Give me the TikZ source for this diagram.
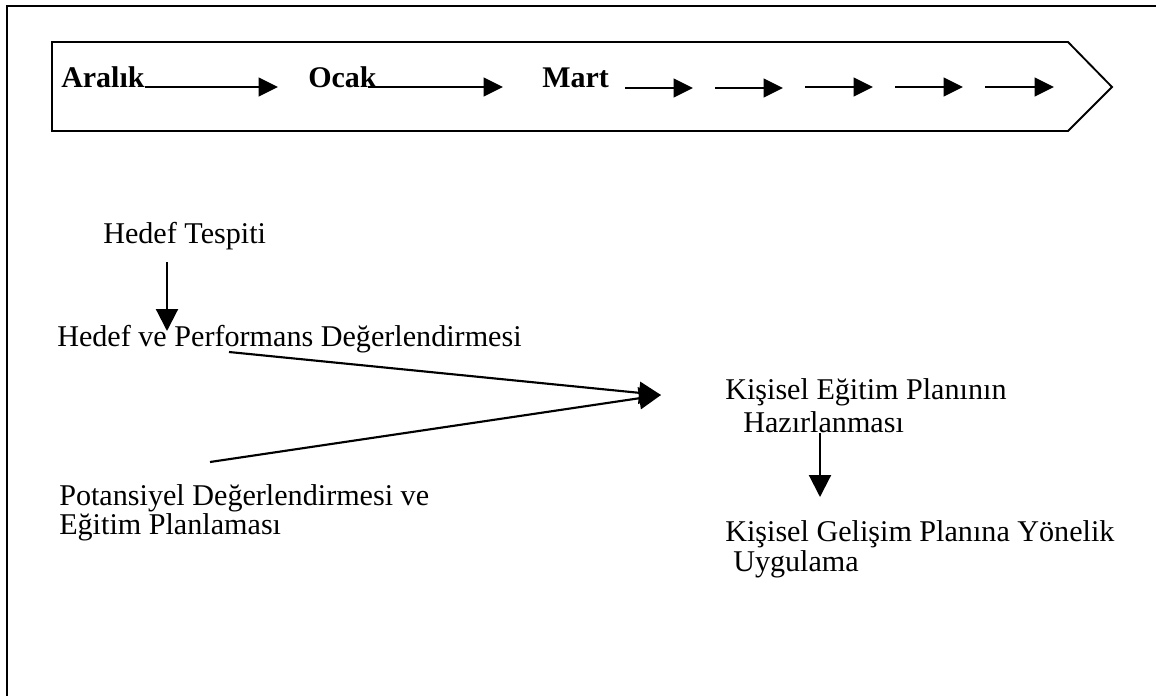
\documentclass[tikz,border=0pt]{standalone}
\usepackage{fontspec}
\setmainfont{Liberation Serif}
\usetikzlibrary{arrows.meta}

\tikzset{
  frameline/.style={line width=1.9pt},
  bandline/.style={line width=1.4pt, line join=miter},
  month/.style={anchor=base west, inner sep=0pt, font=\fontsize{22.5pt}{22.5pt}\selectfont\bfseries},
  txt/.style={anchor=base west, inner sep=0pt, font=\fontsize{22.6pt}{22.5pt}\selectfont},
  bandarrow/.style={line width=1.4pt, -{Triangle[length=14.5pt, width=14pt]}},
  flowarrow/.style={line width=1.6pt, -{Triangle[length=16.5pt, width=16.5pt]}},
}
% two-line text block, baseline on its first line; #1 scales the line pitch
\newcommand{\twoline}[3]{{\renewcommand{\arraystretch}{#1}\begin{tabular}[t]{@{}l@{}}#2\\#3\end{tabular}}}

\begin{document}
\begin{tikzpicture}[x=0.75pt, y=-0.75pt]
  \useasboundingbox (0,0) rectangle (1156,696);

  % open outer frame: top and left edges only
  \draw[frameline] (1156,6) -- (7,6) -- (7,696);

  % timeline band with pointed right end
  \draw[bandline] (52,42) -- (1068,42) -- (1112,87) -- (1068,131) -- (52,131) -- cycle;

  % months on the timeline
  \node[month] (aralik) at (61,87) {Aralık};
  \node[month] (ocak)   at (308,87) {Ocak};
  \node[month] (mart)   at (542,87) {Mart};

  % arrow ends along the timeline
  \coordinate (t1) at (278,87);
  \coordinate (s2) at (368,87);  \coordinate (t2) at (503,87);
  \coordinate (s3) at (625,88);  \coordinate (t3) at (693,88);
  \coordinate (s4) at (715,88);  \coordinate (t4) at (783,88);
  \coordinate (s5) at (805,87);  \coordinate (t5) at (873,87);
  \coordinate (s6) at (895,87);  \coordinate (t6) at (963,87);
  \coordinate (s7) at (985,87);  \coordinate (t7) at (1054,87);

  \draw[bandarrow] (aralik.base east) -- (t1);
  \draw[bandarrow] (s2) -- (t2);
  \draw[bandarrow] (s3) -- (t3);
  \draw[bandarrow] (s4) -- (t4);
  \draw[bandarrow] (s5) -- (t5);
  \draw[bandarrow] (s6) -- (t6);
  \draw[bandarrow] (s7) -- (t7);

  % process steps
  \node[txt] (tespit) at (103,243) {Hedef Tespiti};
  \node[txt] (perf)   at (57,346)  {Hedef ve Performans Değerlendirmesi};
  \node[txt] (pot)    at (59,505)  {\twoline{0.9}{Potansiyel Değerlendirmesi ve}{Eğitim Planlaması}};
  \node[txt] (kep)    at (725,399) {\twoline{1.1}{Kişisel Eğitim Planının}{\hspace{13.5pt}Hazırlanması}};
  \node[txt] (kgp)    at (725,541) {\twoline{1.03}{Kişisel Gelişim Planına Yönelik}{\hspace{6pt}Uygulama}};

  % connector ends
  \coordinate (a1) at (167,262);  \coordinate (a2) at (167,331);
  \coordinate (pA) at (229,352);
  \coordinate (pB) at (210,462);
  \coordinate (meet) at (661,395);
  \coordinate (b1) at (820,433);  \coordinate (b2) at (820,497);

  \draw[flowarrow] (a1) -- (a2);
  \draw[flowarrow] (pA) -- (meet);
  \draw[flowarrow] (pB) -- (meet);
  \draw[flowarrow] (b1) -- (b2);
\end{tikzpicture}
\end{document}
